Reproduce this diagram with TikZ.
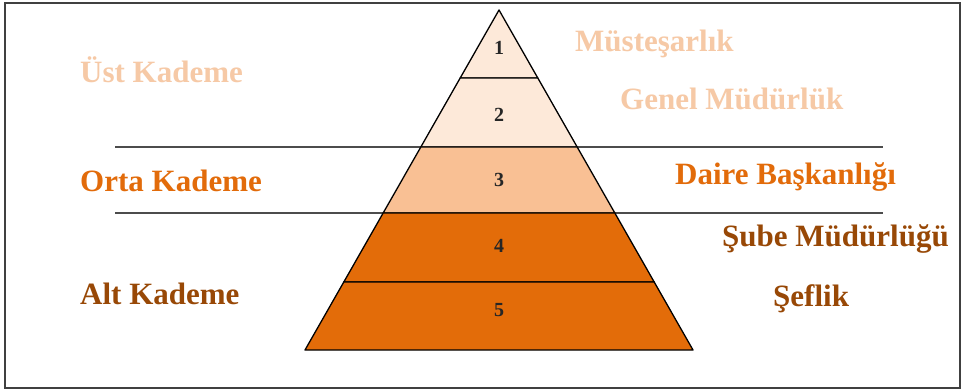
\documentclass[tikz,border=0pt]{standalone}
\usepackage{fontspec}
\setmainfont{Liberation Serif}
\usetikzlibrary{calc}
\definecolor{peachtext}{HTML}{F6C9A6}
\definecolor{orangetext}{HTML}{E26B0A}
\definecolor{browntext}{HTML}{984806}
\definecolor{tierlight}{HTML}{FDE9D9}
\definecolor{tiermid}{HTML}{F9C094}
\definecolor{tierdark}{HTML}{E36C09}
\tikzset{
  lbl/.style={font=\fontsize{31}{31}\selectfont\bfseries, anchor=base west, inner sep=0pt},
  num/.style={font=\fontsize{20}{20}\selectfont\bfseries, anchor=base, inner sep=0pt, text=black!85},
  tier/.style={draw=black, line width=1.3pt, line join=round},
  sep/.style={draw=black!70, line width=1.8pt}
}
\begin{document}
\begin{tikzpicture}[x=1pt,y=-1pt]
\useasboundingbox (0,0) rectangle (962,390);
\fill[white] (0,0) rectangle (962,390);
\draw[black!75, line width=2pt] (5,3) rectangle (960,388);
% pyramid key points
\coordinate (A) at (499,10);
\coordinate (L) at (305,350);
\coordinate (R) at (693,350);
\coordinate (L1) at ($(A)!0.2!(L)$);     \coordinate (R1) at ($(A)!0.2!(R)$);
\coordinate (L2) at ($(A)!0.40294!(L)$); \coordinate (R2) at ($(A)!0.40294!(R)$);
\coordinate (L3) at ($(A)!0.59706!(L)$); \coordinate (R3) at ($(A)!0.59706!(R)$);
\coordinate (L4) at ($(A)!0.8!(L)$);     \coordinate (R4) at ($(A)!0.8!(R)$);
% separator lines
\coordinate (S1a) at (115,147); \coordinate (S1b) at (883,147);
\coordinate (S2a) at (115,213); \coordinate (S2b) at (883,213);
\draw[sep] (S1a) -- (S1b);
\draw[sep] (S2a) -- (S2b);
% tiers
\filldraw[tier, fill=tierlight] (A) -- (R1) -- (L1) -- cycle;
\filldraw[tier, fill=tierlight] (L1) -- (R1) -- (R2) -- (L2) -- cycle;
\filldraw[tier, fill=tiermid] (L2) -- (R2) -- (R3) -- (L3) -- cycle;
\filldraw[tier, fill=tierdark] (L3) -- (R3) -- (R4) -- (L4) -- cycle;
\filldraw[tier, fill=tierdark] (L4) -- (R4) -- (R) -- (L) -- cycle;
% numbers
\node[num] (n1) at (499,55) {1};
\node[num] (n2) at (499,122) {2};
\node[num] (n3) at (499,187) {3};
\node[num] (n4) at (499,253) {4};
\node[num] (n5) at (499,317) {5};
% left labels
\node[lbl, text=peachtext] (ust) at (80,83) {Üst Kademe};
\node[lbl, text=orangetext] (orta) at (80,192) {Orta Kademe};
\node[lbl, text=browntext] (alt) at (80,305) {Alt Kademe};
% right labels
\node[lbl, text=peachtext] (mus) at (575,52) {Müsteşarlık};
\node[lbl, text=peachtext] (gen) at (620,110) {Genel Müdürlük};
\node[lbl, text=orangetext] (dai) at (675,185) {Daire Başkanlığı};
\node[lbl, text=browntext] (sub) at (722,247) {Şube Müdürlüğü};
\node[lbl, text=browntext] (sef) at (773,307) {Şeflik};
\end{tikzpicture}
\end{document}
